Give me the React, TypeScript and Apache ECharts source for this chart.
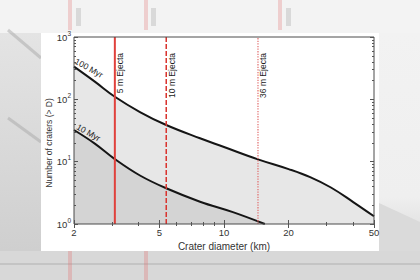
import React, { useEffect, useRef } from "react";
import * as echarts from "echarts";

// Crater size-frequency curves (diameter km, cumulative number > D)
const diam100 = [2, 2.5, 3.1, 4.06, 5.38, 7.73, 10, 14.4, 20, 25.2, 31.5, 40, 50];
const n100 = [334, 192, 110, 62.6, 38.7, 23.7, 17.2, 10.9, 7.6, 5.65, 3.85, 2.25, 1.33];
const diam10 = [2, 2.5, 3.1, 4.06, 5.38, 7.73, 11, 15.5];
const n10 = [32.2, 19.5, 11.0, 6.0, 3.74, 2.28, 1.55, 1.0];

// Ejecta thickness limits
const ejectaDiam = [3.1, 5.38, 14.4];
const ejectaLabels = ["5 m Ejecta", "10 m Ejecta", "36 m Ejecta"];
const ejectaStyles = ["solid", "dashed", "dotted"];

// Ticks
const xMajorTicks = [2, 5, 10, 20, 50];
const xMinorTicks = [3, 4, 6, 7, 8, 9, 30, 40];
const yMajorExp = [0, 1, 2, 3];
const yMinorTicks = [2, 3, 4, 5, 6, 7, 8, 9, 20, 30, 40, 50, 60, 70, 80, 90, 200, 300, 400, 500, 600, 700, 800, 900];

const L = Math.log10;
const FONT = "'Liberation Sans', Arial, Helvetica, sans-serif";

export default function App() {
  const ref = useRef<HTMLDivElement>(null);
  useEffect(() => {
    const chart = echarts.init(ref.current!, null, { renderer: "svg" });
    const xMin = L(2), xMax = L(50);
    const tickColor = "#555";
    const mkX = (pos: string, values: number[], len: number, labels: boolean) => ({
      type: "value", position: pos, min: xMin, max: xMax, z: 6,
      axisLine: { show: false }, splitLine: { show: false },
      axisTick: { show: true, inside: true, length: len, customValues: values, lineStyle: { color: tickColor, width: 1 } },
      axisLabel: labels
        ? { show: true, customValues: values, margin: 3, fontSize: 9.5, color: "#333", fontFamily: FONT,
            formatter: (v: number) => String(Math.round(Math.pow(10, v))) }
        : { show: false },
      name: labels ? "Crater diameter (km)" : "",
      nameLocation: "middle", nameGap: 10.5,
      nameTextStyle: { fontSize: 10, color: "#333", fontFamily: FONT, verticalAlign: "top" },
    });
    const mkY = (pos: string, values: number[], len: number, labels: boolean) => ({
      type: "value", position: pos, min: 0, max: 3, z: 6,
      axisLine: { show: false }, splitLine: { show: false },
      axisTick: { show: true, inside: true, length: len, customValues: values, lineStyle: { color: tickColor, width: 1 } },
      axisLabel: labels
        ? { show: true, customValues: values, margin: 3, fontFamily: FONT,
            formatter: (v: number) => `{a|10}{b|${Math.round(v)}}`,
            rich: { a: { fontSize: 9.5, color: "#333", fontFamily: FONT },
                    b: { fontSize: 6.5, color: "#333", fontFamily: FONT, padding: [0, 0, 8, 0] } } }
        : { show: false },
    });

    const xMaj = xMajorTicks.map(L), xMin2 = xMinorTicks.map(L);
    const yMin2 = yMinorTicks.map(L);

    const series: any[] = [
      {
        type: "line", name: "100 Myr", smooth: 0.4, symbol: "none", z: 2,
        data: diam100.map((d, i) => [L(d), L(n100[i])]),
        lineStyle: { color: "#151515", width: 2 },
        areaStyle: { color: "#e7e7e7", opacity: 1 },
      },
      {
        type: "line", name: "10 Myr", smooth: 0.4, symbol: "none", z: 3,
        data: diam10.map((d, i) => [L(d), L(n10[i])]),
        lineStyle: { color: "#151515", width: 2 },
        areaStyle: { color: "#d4d4d4", opacity: 1 },
      },
    ];
    ejectaDiam.forEach((d, i) => {
      const st = ejectaStyles[i];
      series.push({
        type: "line", symbol: "none", z: 4,
        data: [[L(d), 0], [L(d), 3]],
        lineStyle: st === "solid" ? { color: "#e0413c", width: 2 }
          : st === "dashed" ? { color: "#d9342f", width: 1.5, type: [5, 2] }
          : { color: "#e06a6a", width: 1.2, type: [1.3, 1.3] },
      });
    });

    const bg: any[] = [
      { type: "rect", z: -20, shape: { x: 0, y: 0, width: 420, height: 33 }, style: { fill: "#f3f3f3" } },
      { type: "rect", z: -20, shape: { x: 0, y: 33, width: 41, height: 218 },
        style: { fill: new echarts.graphic.LinearGradient(0, 0, 0, 1, [{ offset: 0, color: "#e4e4e4" }, { offset: 1, color: "#cfcfcf" }]) } },
      { type: "rect", z: -20, shape: { x: 379, y: 33, width: 41, height: 218 },
        style: { fill: new echarts.graphic.LinearGradient(0, 0, 0, 1, [{ offset: 0, color: "#f2f2f2" }, { offset: 0.75, color: "#efefef" }, { offset: 1, color: "#d9d9d9" }]) } },
      { type: "polygon", z: -19, shape: { points: [[379, 203], [420, 222], [420, 251], [379, 251]] }, style: { fill: "#dadada" } },
      { type: "rect", z: -20, shape: { x: 0, y: 251, width: 420, height: 29 }, style: { fill: "#d8d8d8" } },
      { type: "line", z: -18, shape: { x1: 0, y1: 264, x2: 420, y2: 264 }, style: { stroke: "#c4c4c4", lineWidth: 2 } },
      { type: "line", z: -18, shape: { x1: 8, y1: 30, x2: 41, y2: 58 }, style: { stroke: "#a8a8a8", lineWidth: 3, opacity: 0.5 } },
      { type: "line", z: -18, shape: { x1: 8, y1: 118, x2: 41, y2: 142 }, style: { stroke: "#a8a8a8", lineWidth: 3, opacity: 0.5 } },
      ...[70, 146, 280].map((x) => ({ type: "rect", z: -18, shape: { x: x - 2, y: 0, width: 4, height: 30 }, style: { fill: "rgba(225,110,110,0.28)" } })),
      ...[70, 146].map((x) => ({ type: "rect", z: -18, shape: { x: x - 2, y: 251, width: 4, height: 29 }, style: { fill: "rgba(225,110,110,0.3)" } })),
      ...[78, 153, 288].map((x) => ({ type: "rect", z: -18, shape: { x: x - 2, y: 8, width: 5, height: 18 }, style: { fill: "rgba(170,170,170,0.35)" } })),
      { type: "rect", z: -10, shape: { x: 41, y: 33, width: 338, height: 218 }, style: { fill: "#ffffff" } },
    ];

    const texts: any[] = [
      { type: "text", z: 20, x: 49, y: 143, rotation: Math.PI / 2,
        style: { text: "Number of craters (> D)", fill: "#333", font: `8.5px ${FONT}`, align: "center", verticalAlign: "middle" } },
      { type: "text", z: 20, x: 89, y: 68, rotation: -0.5,
        style: { text: "100 Myr", font: `8.5px ${FONT}`, fill: "#222", align: "center", verticalAlign: "middle" } },
      { type: "text", z: 20, x: 88.5, y: 132.5, rotation: -0.52,
        style: { text: "10 Myr", font: `8.5px ${FONT}`, fill: "#222", align: "center", verticalAlign: "middle" } },
    ];

    chart.setOption({
      animation: false,
      backgroundColor: "#ebebeb",
      grid: { left: 74, right: 46, top: 37, bottom: 56, show: true, borderColor: "#4a4a4a", borderWidth: 1, backgroundColor: "transparent", z: 6 },
      xAxis: [mkX("bottom", xMaj, 4, true), mkX("bottom", xMin2, 2, false), mkX("top", xMaj, 4, false), mkX("top", xMin2, 2, false)],
      yAxis: [mkY("left", yMajorExp, 4, true), mkY("left", yMin2, 2, false), mkY("right", yMajorExp, 4, false), mkY("right", yMin2, 2, false)],
      series,
      graphic: [...bg, ...texts],
    });

    const ejectaTexts = ejectaDiam.map((d, i) => {
      const p = chart.convertToPixel({ xAxisIndex: 0, yAxisIndex: 0 } as any, [L(d), 3]) as number[];
      return { type: "text", z: 20, x: p[0] + 5.5, y: p[1] + 16, rotation: Math.PI / 2,
        style: { text: ejectaLabels[i], font: `8.5px ${FONT}`, fill: "#222", align: "right", verticalAlign: "middle" } };
    });
    chart.setOption({ graphic: [...bg, ...texts, ...ejectaTexts] });

    return () => chart.dispose();
  }, []);
  return <div ref={ref} style={{ position: "fixed", left: 0, top: 0, width: 420, height: 280 }} />;
}
